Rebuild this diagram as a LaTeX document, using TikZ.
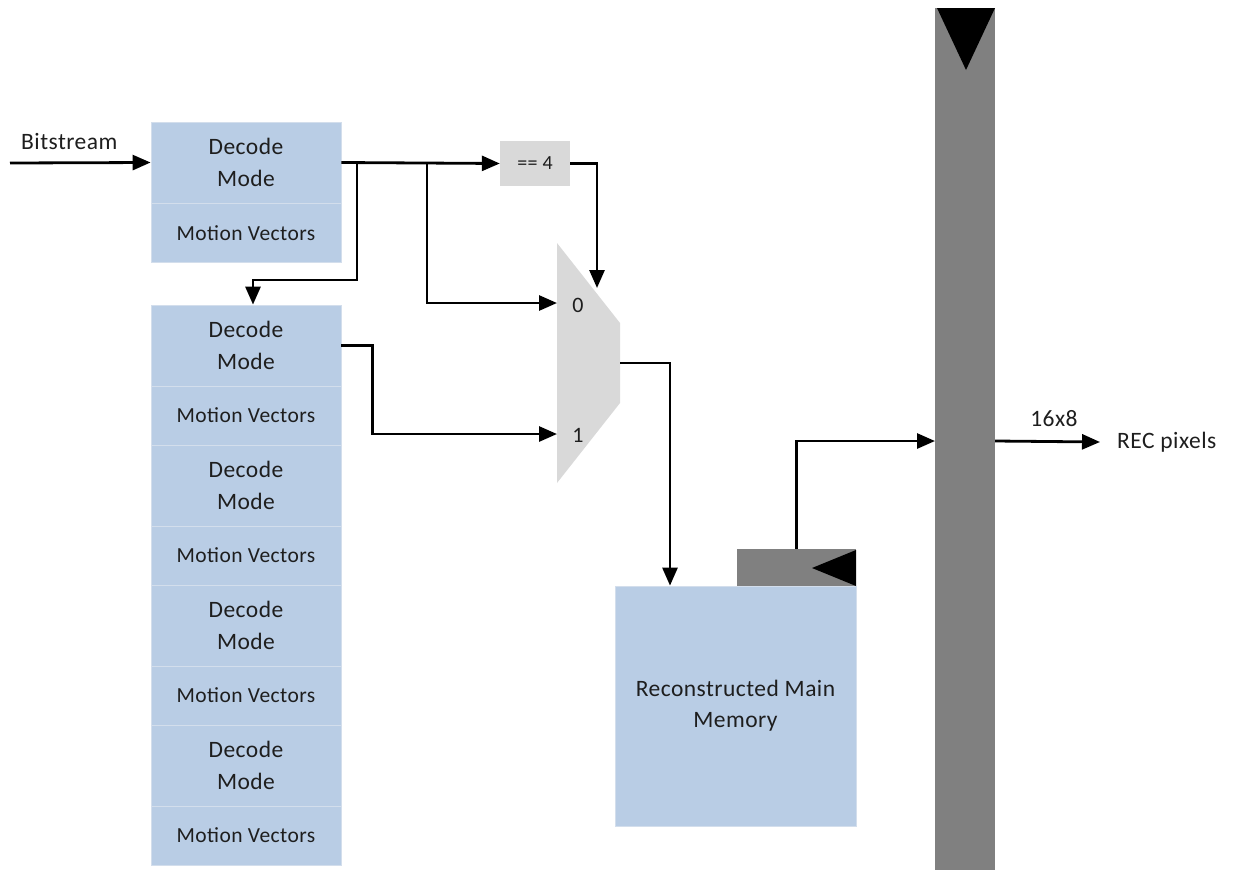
\documentclass[tikz,border=0pt]{standalone}
\usepackage{fontspec}
\setmainfont[LetterSpace=2]{Carlito}
\usetikzlibrary{arrows.meta,positioning}
\definecolor{blkblue}{HTML}{B9CDE5}
\definecolor{blkedge}{HTML}{D3DEEC}
\definecolor{muxgrey}{HTML}{D9D9D9}
\definecolor{bufgrey}{HTML}{808080}
\definecolor{txtgrey}{HTML}{1E1E1E}
\tikzset{
  blk/.style   ={rectangle,fill=blkblue,draw=blkedge,line width=0.8pt,
                 minimum width=190pt,inner sep=0pt,align=center,text=txtgrey},
  dmode/.style ={blk,minimum height=81pt,font=\fontsize{23.5}{32}\selectfont},
  mvec/.style  ={blk,minimum height=59pt,font=\fontsize{21.5}{23}\selectfont},
  buf/.style   ={rectangle,fill=bufgrey,inner sep=0pt},
  lbl/.style   ={text=txtgrey,inner sep=1pt,font=\fontsize{23.5}{26}\selectfont},
  wire/.style  ={draw=black,line width=2.8pt},
}

\begin{document}
\begin{tikzpicture}[
  >={Triangle[length=18pt,width=15pt]},
  x=1pt, y=-1pt,
]
\useasboundingbox (0,0) rectangle (1249,870);

%% ---------------- decoder blocks ----------------
\node[dmode] (dmTop) at (246,162.5) {Decode\\Mode};
\node[mvec]  (mvTop) at (246,233)   {Motion Vectors};

%% the lower stack: four decode/vector pairs
\foreach \i in {0,...,3}{
  \node[dmode] (dm\i) at (246,{345.5+140*\i}) {Decode\\Mode};
  \node[mvec]  (mv\i) at (246,{415.5+140*\i}) {Motion Vectors};
}

%% ---------------- compare and multiplexer ----------------
\node[rectangle,fill=muxgrey,minimum width=70pt,minimum height=45pt,
      inner sep=0pt,text=txtgrey,font=\fontsize{20}{22}\selectfont]
      (eqf) at (535,163.5) {== 4};

\fill[muxgrey] (557,243) -- (620,323) -- (620,403) -- (557,483) -- cycle;
\node[lbl,font=\fontsize{22}{24}\selectfont] (sel0) at (578,305) {0};
\node[lbl,font=\fontsize{22}{24}\selectfont] (sel1) at (578,435) {1};
\coordinate (mux0)   at (557,303);
\coordinate (mux1)   at (557,434);
\coordinate (muxTop) at (597,288);
\coordinate (muxOut) at (620,363);

%% ---------------- memory and line buffer ----------------
\node[blk,minimum width=241pt,minimum height=240pt,
      font=\fontsize{23.5}{31}\selectfont]
      (mem) at (735.5,706) {Reconstructed Main\\Memory};
\node[buf,minimum width=119pt,minimum height=37pt] (memtab) at (796.5,567.5) {};
\fill (856,550) -- (856,586) -- (812,568) -- cycle;

\node[buf,minimum width=60pt,minimum height=862pt] (bar) at (965,439) {};
\fill (937,8) -- (995,8) -- (966,70) -- cycle;
\coordinate (barIn)  at (935,441);
\coordinate (barOut) at (995,441);

%% ---------------- labels ----------------
\node[lbl,anchor=west] (bits) at (20,141) {Bitstream};
\coordinate (bsIn) at (10,163);
\node[lbl] (size) at (1054,419) {16x8};
\node[lbl,anchor=west] (rec) at (1116,442) {REC pixels};

%% ---------------- wires ----------------
\coordinate (tapA) at (357,163);
\coordinate (tapB) at (427,163);
\draw[wire,->] (bsIn) -- (dmTop.west);
\draw[wire,->] (dmTop.east) -- (eqf.west);
\draw[wire,->] (tapA) -- (357,280) -| ([xshift=7pt]dm0.north);
\draw[wire,->] (tapB) |- (mux0);
\draw[wire,->] (eqf.east) -| (muxTop);
\draw[wire,->] (dm0.east) -- ++(31,0) |- (mux1);
\draw[wire,->] (muxOut) -| ([xshift=-65.5pt]mem.north);
\draw[wire,->] (memtab.north) |- (barIn);
\draw[wire,->] (barOut) -- ([xshift=-16pt]rec.west);

\end{tikzpicture}
\end{document}
